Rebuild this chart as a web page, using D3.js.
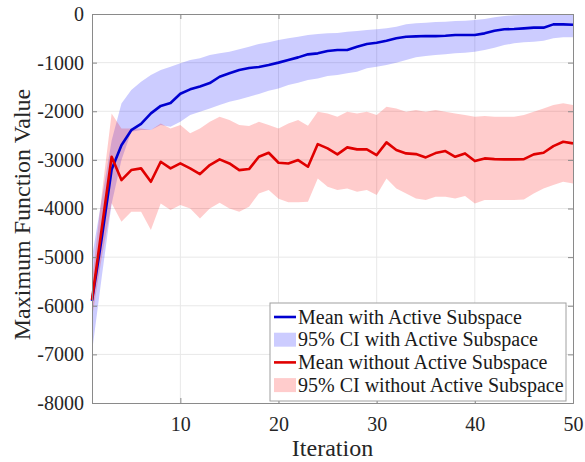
<!DOCTYPE html>
<html>
<head>
<meta charset="utf-8">
<script src="https://cdn.jsdelivr.net/npm/d3@7"></script>
<style>
  body { margin: 0; background: #fff; }
  svg { display: block; }
  svg text { font-family: 'Liberation Serif', 'Times New Roman', 'DejaVu Serif', serif; }
</style>
</head>
<body>
<svg id="chart" width="585" height="462"></svg>
<script>
// data
const iterations = d3.range(1, 51);
const blueMean = [-5900, -4600, -3200, -2700, -2390, -2260, -2044, -1890, -1830, -1640,
  -1550, -1490, -1420, -1290, -1220, -1150, -1110, -1090, -1049, -1000,
  -946, -892, -830, -809, -761, -741, -741, -672, -617, -590,
  -549, -500, -467, -460, -453, -455, -446, -432, -432, -432,
  -398, -343, -315, -309, -295, -281, -281, -213, -213, -220];
const blueLower = [-6950, -5400, -3900, -3000, -2421, -2387, -2387, -2284, -2318, -2215,
  -2078, -2010, -1941, -1872, -1804, -1756, -1701, -1646, -1578, -1530,
  -1461, -1413, -1358, -1324, -1276, -1255, -1221, -1187, -1118, -1084,
  -1049, -1001, -946, -892, -864, -844, -830, -809, -796, -775,
  -741, -693, -638, -604, -583, -570, -549, -500, -480, -480];
const blueUpper = [-5000, -3800, -2600, -1840, -1564, -1392, -1255, -1152, -1084, -1015,
  -946, -912, -844, -809, -775, -727, -672, -617, -583, -535,
  -500, -467, -432, -412, -398, -390, -364, -350, -329, -315,
  -295, -261, -213, -192, -178, -165, -158, -144, -137, -123,
  -103, -69, -41, -27, -20, -20, -20, -7, 0, 0];
const redMean = [-5880, -4400, -2936, -3416, -3210, -3175, -3450, -3039, -3175, -3073,
  -3175, -3292, -3107, -2990, -3073, -3210, -3189, -2936, -2853, -3059,
  -3073, -3004, -3141, -2675, -2764, -2887, -2743, -2784, -2784, -2901,
  -2640, -2798, -2867, -2881, -2949, -2860, -2819, -2936, -2867, -3025,
  -2970, -2984, -2990, -2990, -2984, -2887, -2853, -2716, -2627, -2661];
const redLower = [-6250, -5000, -3890, -4273, -4067, -4067, -4444, -3896, -4033, -3930,
  -4000, -4204, -4000, -3880, -4000, -4067, -3965, -3690, -3621, -3800,
  -3870, -3870, -3860, -3381, -3553, -3621, -3587, -3656, -3621, -3724,
  -3381, -3587, -3690, -3793, -3827, -3760, -3759, -3793, -3745, -3896,
  -3827, -3827, -3827, -3827, -3813, -3690, -3587, -3519, -3450, -3484];
const redUpper = [-5500, -3700, -2044, -2353, -2353, -2353, -2387, -2250, -2353, -2284,
  -2455, -2353, -2215, -2113, -2181, -2284, -2305, -2215, -2284, -2353,
  -2250, -2181, -2300, -2010, -2044, -2113, -2010, -2044, -2010, -2078,
  -1907, -1941, -2010, -1975, -2010, -1975, -2010, -2044, -2078, -2113,
  -2099, -2113, -2113, -2113, -2078, -2010, -1941, -1872, -1838, -1872];
const xTicks = [10, 20, 30, 40, 50];
const yTicks = [0, -1000, -2000, -3000, -4000, -5000, -6000, -7000, -8000];
const legendLabels = ['Mean with Active Subspace', '95% CI with Active Subspace',
  'Mean without Active Subspace', '95% CI without Active Subspace'];

// layout
const svg = d3.select('#chart');
const margin = { top: 14, right: 12, bottom: 59, left: 92 };
const width = 585 - margin.left - margin.right;
const height = 462 - margin.top - margin.bottom;
const g = svg.append('g').attr('transform', `translate(${margin.left},${margin.top})`);

const x = d3.scaleLinear().domain([1, 50]).range([0, width]);
const y = d3.scaleLinear().domain([-8000, 0]).range([height, 0]);

// grid
g.append('g').selectAll('line').data(xTicks.filter(d => d < 50)).enter().append('line')
  .attr('x1', d => x(d)).attr('x2', d => x(d)).attr('y1', 0).attr('y2', height)
  .attr('stroke', '#e8e8e8').attr('stroke-width', 1);
g.append('g').selectAll('line').data(yTicks.filter(d => d > -8000 && d < 0)).enter().append('line')
  .attr('x1', 0).attr('x2', width).attr('y1', d => y(d)).attr('y2', d => y(d))
  .attr('stroke', '#e8e8e8').attr('stroke-width', 1);

// bands
const band = (lo, hi) => d3.area()
  .x((d, i) => x(iterations[i]))
  .y0((d, i) => y(lo[i]))
  .y1((d, i) => y(hi[i]));
const line = vals => d3.line().x((d, i) => x(iterations[i])).y((d, i) => y(vals[i]));

g.append('path').datum(iterations).attr('d', band(blueLower, blueUpper))
  .attr('fill', '#0000ff').attr('fill-opacity', 0.2);
g.append('path').datum(iterations).attr('d', band(redLower, redUpper))
  .attr('fill', '#ff0000').attr('fill-opacity', 0.2);

g.append('path').datum(iterations).attr('d', line(blueMean))
  .attr('fill', 'none').attr('stroke', '#0000d0').attr('stroke-width', 2.6).attr('stroke-linejoin', 'round');
g.append('path').datum(iterations).attr('d', line(redMean))
  .attr('fill', 'none').attr('stroke', '#e00000').attr('stroke-width', 2.6).attr('stroke-linejoin', 'round');

// axes
const xAxis = g.append('g').attr('transform', `translate(0,${height})`)
  .call(d3.axisBottom(x).tickValues(xTicks).tickSize(-5).tickPadding(14));
const yAxis = g.append('g')
  .call(d3.axisLeft(y).tickValues(yTicks).tickSize(-5).tickPadding(8).tickFormat(d => String(d)));
g.append('g').call(d3.axisTop(x).tickValues(xTicks).tickSize(-5).tickFormat(''));
g.append('g').attr('transform', `translate(${width},0)`)
  .call(d3.axisRight(y).tickValues(yTicks).tickSize(-5).tickFormat(''));
g.selectAll('.domain').attr('stroke', '#8a8a8a');
g.selectAll('.tick line').attr('stroke', '#8a8a8a');
[xAxis, yAxis].forEach(ax => {
  ax.attr('font-family', null).attr('font-size', 20);
  ax.selectAll('text').attr('fill', '#262626');
});

// labels
svg.append('text')
  .attr('x', margin.left + width / 2).attr('y', 456)
  .attr('text-anchor', 'middle').attr('font-size', 24).attr('fill', '#262626')
  .text('Iteration');
svg.append('text')
  .attr('transform', `translate(30,${margin.top + height / 2 + 6}) rotate(-90)`)
  .attr('text-anchor', 'middle').attr('font-size', 24).attr('fill', '#262626')
  .text('Maximum Function Value');

// legend
const lg = svg.append('g').attr('transform', 'translate(270,303)');
lg.append('rect').attr('width', 296).attr('height', 98)
  .attr('fill', '#fff').attr('stroke', '#a0a0a0').attr('stroke-width', 1);
const legendStyles = [
  { kind: 'line', color: '#0000d0' },
  { kind: 'patch', color: '#0000ff' },
  { kind: 'line', color: '#e00000' },
  { kind: 'patch', color: '#ff0000' }
];
legendLabels.forEach((label, i) => {
  const cy = 14 + i * 22.7;
  const st = legendStyles[i];
  if (st.kind === 'line') {
    lg.append('line').attr('x1', 4).attr('x2', 26).attr('y1', cy).attr('y2', cy)
      .attr('stroke', st.color).attr('stroke-width', 2.6);
  } else {
    lg.append('rect').attr('x', 4).attr('y', cy - 7).attr('width', 22).attr('height', 14)
      .attr('fill', st.color).attr('fill-opacity', 0.2);
  }
  lg.append('text').attr('x', 28).attr('y', cy + 6.5)
    .attr('font-size', 20).attr('fill', '#1a1a1a').text(label);
});
</script>
</body>
</html>
